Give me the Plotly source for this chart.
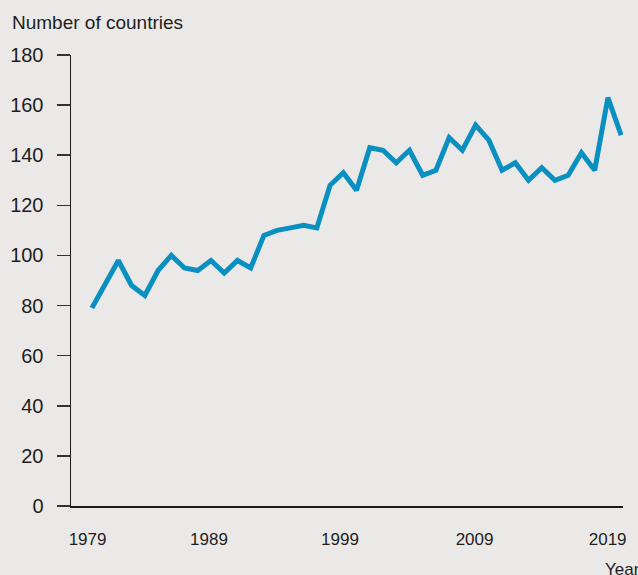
import plotly.graph_objects as go

years = list(range(1980, 2021))
countries = [79, 89, 98, 88, 84, 94, 100, 95, 94, 98,
             93, 98, 95, 108, 110, 111, 112, 111, 128, 133,
             126, 143, 142, 137, 142, 132, 134, 147, 142, 152,
             146, 134, 137, 130, 135, 130, 132, 141, 134, 163,
             148]
year_labels = ["1979", "1989", "1999", "2009", "2019"]
y_ticks = [0, 20, 40, 60, 80, 100, 120, 140, 160, 180]

FONT = "Liberation Sans, Arial, sans-serif"
BG = "#ebe9e7"
TXT = "#1e1e1e"

fig = go.Figure()
fig.add_trace(go.Scatter(
    x=years, y=countries, mode="lines",
    line=dict(color="#0a8fc1", width=5),
    hoverinfo="skip", showlegend=False,
))

fig.update_layout(
    width=638, height=575,
    margin=dict(l=71, r=15, t=55, b=69),
    paper_bgcolor=BG, plot_bgcolor=BG,
    font=dict(family=FONT, color=TXT),
    title=dict(text="Number of countries", xref="container", yref="container",
               x=12 / 638, xanchor="left", y=1 - 22 / 575, yanchor="middle",
               font=dict(family=FONT, size=19, color=TXT)),
    xaxis=dict(
        range=[1978.42, 2020.14], automargin=False,
        showgrid=False, zeroline=False,
        showline=True, linecolor="#1a1a1a", linewidth=1.5,
        ticks="", tickmode="array",
        tickvals=[1979.67, 1988.85, 1998.75, 2008.92, 2018.98],
        ticktext=year_labels,
        tickfont=dict(size=17, family=FONT, color=TXT),
        ticklabelstandoff=17,
    ),
    yaxis=dict(
        range=[0, 180], automargin=False,
        showgrid=False, zeroline=False,
        showline=True, linecolor="#1a1a1a", linewidth=1.5,
        ticks="outside", ticklen=13, tickwidth=1.5, tickcolor="#333333",
        tickmode="array", tickvals=y_ticks,
        tickfont=dict(size=20, family=FONT, color=TXT),
        ticklabelstandoff=9,
    ),
    annotations=[dict(
        text="Year", xref="paper", yref="paper",
        x=(603 - 71) / 552, y=(506 - 569) / 451,
        xanchor="left", yanchor="middle", showarrow=False,
        font=dict(family=FONT, size=17, color=TXT),
    )],
)

fig.write_html("out.html",
               config={"displayModeBar": False, "staticPlot": True},
               post_script="document.body.style.margin='0';document.body.style.background='%s';" % BG)
